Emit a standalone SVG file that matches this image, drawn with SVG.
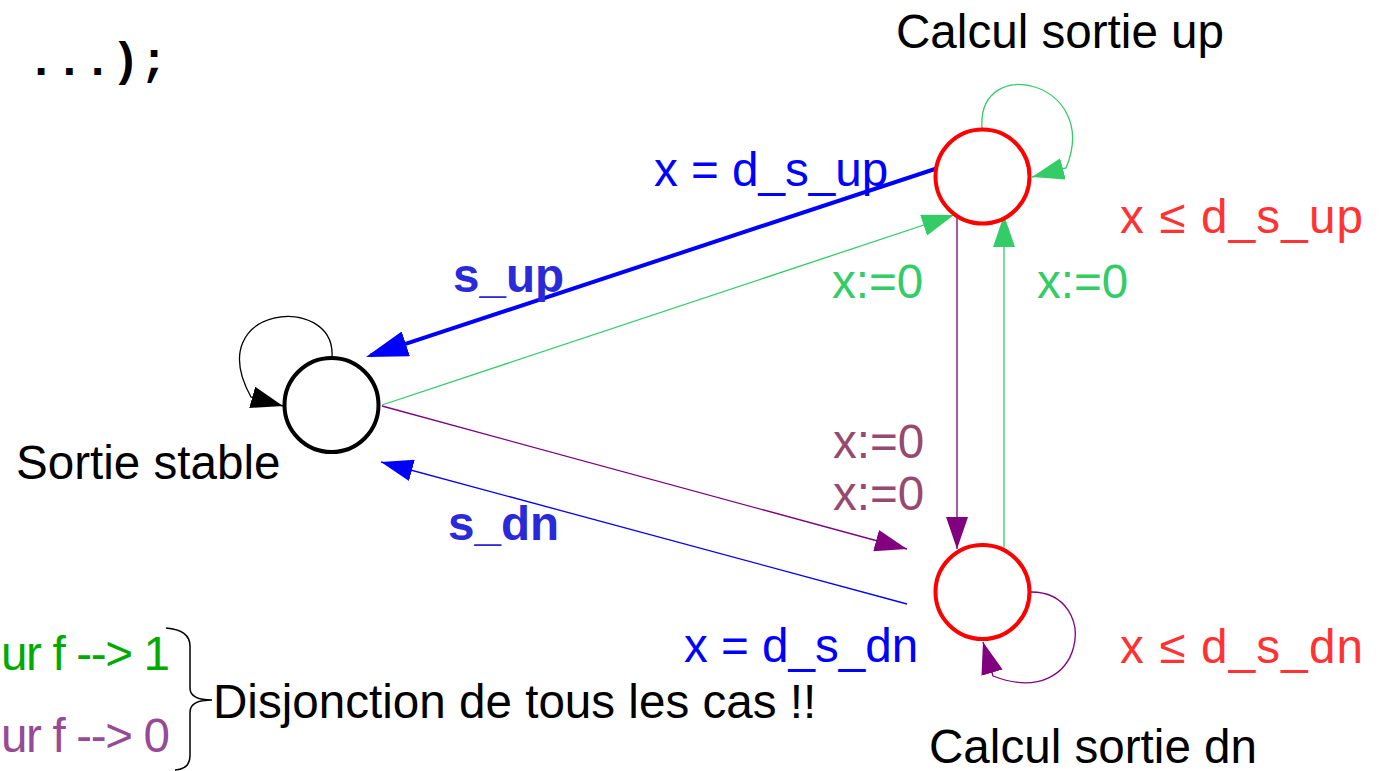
<svg xmlns="http://www.w3.org/2000/svg" width="1383" height="771" viewBox="0 0 1383 771">
<style>
text{font-family:"Liberation Sans",Arial,sans-serif;font-size:47.6px}
.mono{font-family:"Liberation Mono","Courier New",monospace;font-weight:bold;font-size:47px}
.bold{font-weight:bold}
.state{fill:#fff;stroke-width:4}
.edge{fill:none;stroke-width:1.3}
</style>
<defs>
<marker id="ah-black" markerUnits="userSpaceOnUse" viewBox="0 0 32 22" markerWidth="32" markerHeight="22" refX="32" refY="11" orient="auto"><path d="M0,0 L32,11 L0,22 z" fill="#000"/></marker>
<marker id="ah-green" markerUnits="userSpaceOnUse" viewBox="0 0 32 22" markerWidth="32" markerHeight="22" refX="32" refY="11" orient="auto"><path d="M0,0 L32,11 L0,22 z" fill="#33cc66"/></marker>
<marker id="ah-purple" markerUnits="userSpaceOnUse" viewBox="0 0 32 22" markerWidth="32" markerHeight="22" refX="32" refY="11" orient="auto"><path d="M0,0 L32,11 L0,22 z" fill="#800080"/></marker>
<marker id="ah-blue" markerUnits="userSpaceOnUse" viewBox="0 0 32 22" markerWidth="32" markerHeight="22" refX="32" refY="11" orient="auto"><path d="M0,0 L32,11 L0,22 z" fill="#0000ff"/></marker>
<marker id="ah-blue-l" markerUnits="userSpaceOnUse" viewBox="0 0 42 26" markerWidth="42" markerHeight="26" refX="37" refY="13" orient="auto"><path d="M0,0 L42,13 L0,26 z" fill="#0000ff"/></marker>
</defs>

<text class="mono" x="27" y="75">...);</text>

<g id="connectors">
  <path class="edge" stroke="#000" d="M332,357 C336,292 200,305 251,397 L283,406" marker-end="url(#ah-black)"/>
  <path fill="none" stroke="#0000ff" stroke-width="4" d="M941,167 L370.7,355.4" marker-end="url(#ah-blue-l)"/>
  <path class="edge" stroke="#33cc66" d="M382,405 L954,215" marker-end="url(#ah-green)"/>
  <path class="edge" stroke="#800080" d="M382,406 L907,549" marker-end="url(#ah-purple)"/>
  <path class="edge" stroke="#0000ff" d="M907,604 L381,462" marker-end="url(#ah-blue)"/>
  <path class="edge" stroke="#800080" d="M957,215 L957,549" marker-end="url(#ah-purple)"/>
  <path class="edge" stroke="#33cc66" d="M1004,550 L1004,215" marker-end="url(#ah-green)"/>
  <path class="edge" stroke="#33cc66" d="M982,128 C977,52 1102,82 1066,168 L1032,177" marker-end="url(#ah-green)"/>
  <path class="edge" stroke="#800080" d="M1031,592 C1102,592 1086,712 993,676 L983,642" marker-end="url(#ah-purple)"/>
</g>

<g id="sortie-stable">
  <circle class="state" cx="331.5" cy="405" r="47" stroke="#000"/>
  <text x="16" y="479">Sortie stable</text>
</g>
<g id="calcul-up">
  <circle class="state" cx="982.5" cy="176.5" r="47" stroke="#ff0000"/>
  <text x="896" y="48">Calcul sortie up</text>
  <text x="1120" y="233" fill="#ff3333" textLength="243">x ≤ d_s_up</text>
</g>
<g id="calcul-dn">
  <circle class="state" cx="982.5" cy="592" r="47" stroke="#ff0000"/>
  <text x="929" y="763">Calcul sortie dn</text>
  <text x="1120" y="663" fill="#ff3333" textLength="243">x ≤ d_s_dn</text>
</g>

<g id="labels">
  <text x="654" y="186" fill="#0000ff">x = d_s_up</text>
  <text class="bold" x="453" y="292" fill="#2a2ad8">s_up</text>
  <text x="832" y="298" fill="#33cc66">x:=0</text>
  <text x="1037" y="298" fill="#33cc66">x:=0</text>
  <text x="833" y="458" fill="#964a70">x:=0</text>
  <text x="833" y="510" fill="#964a70">x:=0</text>
  <text class="bold" x="448" y="540" fill="#2a2ad8">s_dn</text>
  <text x="684" y="662" fill="#0000ff">x = d_s_dn</text>
</g>

<g id="legend">
  <text x="1" y="670" fill="#00aa00" textLength="169">ur f --&gt; 1</text>
  <text x="1" y="752" fill="#964b96" textLength="169">ur f --&gt; 0</text>
  <path d="M166,628 Q190,630 190,646 L190,688 Q190,700 212,700 Q190,700 190,712 L190,756 Q190,769 175,770" fill="none" stroke="#000" stroke-width="1.5"/>
  <text x="213" y="718">Disjonction de tous les cas !!</text>
</g>
</svg>
